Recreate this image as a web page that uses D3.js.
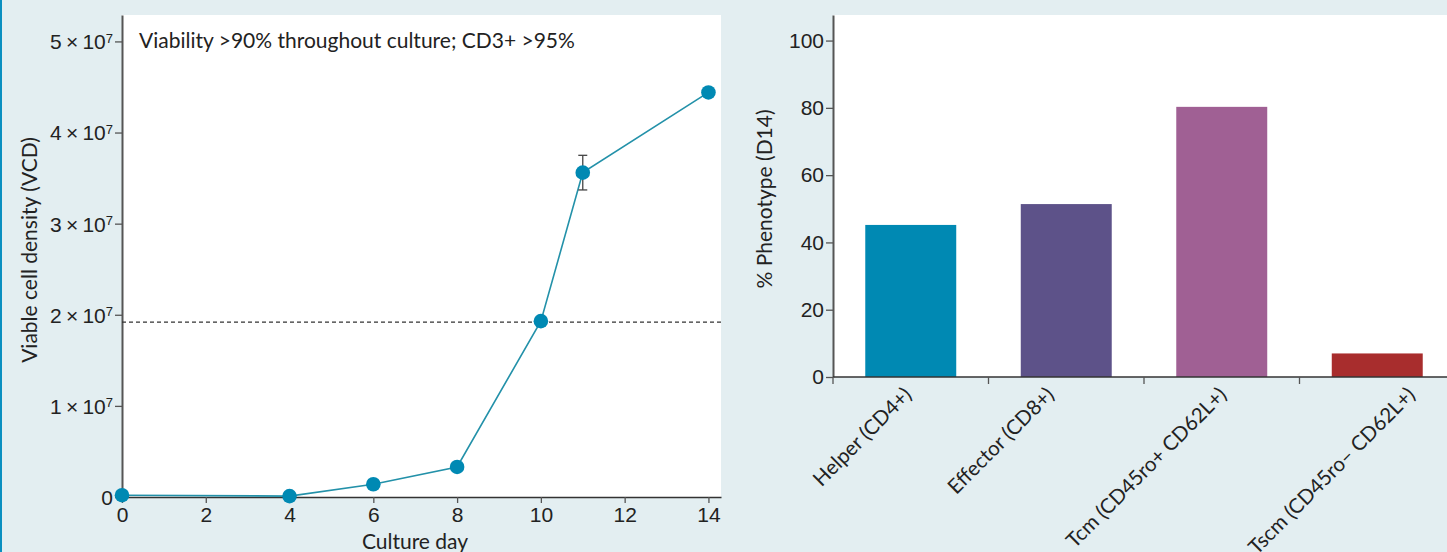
<!DOCTYPE html>
<html>
<head>
<meta charset="utf-8">
<script src="https://cdn.jsdelivr.net/npm/d3@7"></script>
<style>
  html, body { margin: 0; padding: 0; background: #e3eef1; }
  svg { display: block; font-family: Lato, "Open Sans", sans-serif; }
</style>
</head>
<body>
<svg id="chart" width="1447" height="552"></svg>
<script>
// Growth curve: viable cell density by culture day
const cultureDays = [0, 4, 6, 8, 10, 11, 14];
const vcdValues = [0.02e7, 0.01e7, 0.14e7, 0.33e7, 1.93e7, 3.56e7, 4.44e7];
const vcdErrors = [0, 0, 0, 0, 0, 0.19e7, 0];
const vcdTarget = 1.92e7;
const dayTicks = [0, 2, 4, 6, 8, 10, 12, 14];
const vcdTicks = [0, 1e7, 2e7, 3e7, 4e7, 5e7];
const annotation = "Viability >90% throughout culture; CD3+ >95%";

// Phenotype composition at day 14
const phenotypes = ["Helper (CD4+)", "Effector (CD8+)", "Tcm (CD45ro+ CD62L+)", "Tscm (CD45ro\u2013 CD62L+)"];
const phenotypePct = [45.2, 51.4, 80.3, 7.0];
const phenotypeColors = ["#0089b3", "#5d5289", "#a06094", "#a82d2d"];
const pctTicks = [0, 20, 40, 60, 80, 100];

// Layout: horizontal nudge of each rotated category label (px)
const labelNudge = [-3, -16, 1, 34];

const svg = d3.select("#chart");
const axisColor = "#555";
const textColor = "#222";
const fs = "21px";

// Page frame: accent stripe on the left edge
svg.append("rect").attr("x", 0).attr("y", 0).attr("width", 2).attr("height", 552).attr("fill", "#0a8fc0");

/* ---------- Left panel: VCD line chart ---------- */
const L = { left: 122, right: 721, top: 15, bottom: 497 };
const x1 = d3.scaleLinear().domain([0, 14.3]).range([L.left, L.right]);
const y1 = d3.scaleLinear().domain([0, 5.29e7]).range([L.bottom, L.top]);

svg.append("rect").attr("x", L.left).attr("y", L.top)
  .attr("width", L.right - L.left).attr("height", L.bottom - L.top).attr("fill", "#fff");

// y axis with scientific labels
const yAx1 = svg.append("g").attr("transform", `translate(${L.left},0)`)
  .call(d3.axisLeft(y1).tickValues(vcdTicks).tickSize(7).tickSizeOuter(0).tickFormat(""));
yAx1.select(".domain").attr("stroke", axisColor).attr("stroke-width", 2);
yAx1.selectAll(".tick line").attr("stroke", axisColor).attr("stroke-width", 1.3);
yAx1.selectAll(".tick").each(function(d) {
  const t = d3.select(this).append("text")
    .attr("x", -9).attr("dy", "0.35em").attr("text-anchor", "end")
    .attr("fill", textColor).style("font-size", fs);
  if (d === 0) { t.text("0"); return; }
  t.append("tspan").text(`${d / 1e7}\u2009\u00d7\u200910`);
  t.append("tspan").attr("dy", "-0.5em").style("font-size", "13px").text("7");
});

// x axis
const xAx1 = svg.append("g").attr("transform", `translate(0,${L.bottom})`)
  .call(d3.axisBottom(x1).tickValues(dayTicks).tickSize(6).tickSizeOuter(0));
xAx1.select(".domain").attr("stroke", "#333").attr("stroke-width", 1.5);
xAx1.selectAll(".tick line").attr("stroke", axisColor).attr("stroke-width", 1.3);
xAx1.selectAll(".tick text").attr("fill", textColor).style("font-size", fs).attr("dy", "0.76em");

// axis titles
svg.append("text").attr("x", 415).attr("y", 549)
  .attr("text-anchor", "middle").attr("fill", textColor).style("font-size", fs).text("Culture day");
svg.append("text").attr("transform", `translate(37,250) rotate(-90)`)
  .attr("text-anchor", "middle").attr("fill", textColor).style("font-size", fs)
  .text("Viable cell density (VCD)");

// annotation
svg.append("text").attr("x", 139).attr("y", 48).attr("fill", textColor)
  .style("font-size", fs).text(annotation);

// target reference line
svg.append("line").attr("x1", L.left).attr("x2", L.right)
  .attr("y1", y1(vcdTarget)).attr("y2", y1(vcdTarget))
  .attr("stroke", "#333").attr("stroke-width", 1.2).attr("stroke-dasharray", "4,3");

const pts = cultureDays.map((d, i) => ({ day: d, v: vcdValues[i], e: vcdErrors[i] }));

svg.append("path").datum(pts)
  .attr("fill", "none").attr("stroke", "#2391a9").attr("stroke-width", 1.6)
  .attr("d", d3.line().x(d => x1(d.day)).y(d => y1(d.v)));

// error bars
const eb = svg.append("g").selectAll("g").data(pts.filter(d => d.e > 0)).join("g")
  .attr("stroke", "#444").attr("stroke-width", 1.3);
eb.append("line").attr("x1", d => x1(d.day)).attr("x2", d => x1(d.day))
  .attr("y1", d => y1(d.v - d.e)).attr("y2", d => y1(d.v + d.e));
eb.append("line").attr("x1", d => x1(d.day) - 4.5).attr("x2", d => x1(d.day) + 4.5)
  .attr("y1", d => y1(d.v + d.e)).attr("y2", d => y1(d.v + d.e));
eb.append("line").attr("x1", d => x1(d.day) - 4.5).attr("x2", d => x1(d.day) + 4.5)
  .attr("y1", d => y1(d.v - d.e)).attr("y2", d => y1(d.v - d.e));

svg.append("g").selectAll("circle").data(pts).join("circle")
  .attr("cx", d => x1(d.day)).attr("cy", d => y1(d.v)).attr("r", 7.3)
  .attr("fill", "#0089b3");

/* ---------- Right panel: phenotype bar chart ---------- */
const R = { left: 833, right: 1447, top: 15, bottom: 377 };
const x2 = d3.scaleBand().domain(phenotypes).range([R.left, 1455])
  .paddingInner(0.415).paddingOuter(0.2075);
const y2 = d3.scaleLinear().domain([0, 107.6]).range([R.bottom, R.top]);

svg.append("rect").attr("x", R.left).attr("y", R.top)
  .attr("width", R.right - R.left).attr("height", R.bottom - R.top).attr("fill", "#fff");

svg.append("g").selectAll("rect").data(phenotypes).join("rect")
  .attr("x", d => x2(d)).attr("width", x2.bandwidth())
  .attr("y", (d, i) => y2(phenotypePct[i]))
  .attr("height", (d, i) => y2(0) - y2(phenotypePct[i]))
  .attr("fill", (d, i) => phenotypeColors[i]);

const yAx2 = svg.append("g").attr("transform", `translate(${R.left},0)`)
  .call(d3.axisLeft(y2).tickValues(pctTicks).tickSize(7).tickSizeOuter(0));
yAx2.select(".domain").attr("stroke", axisColor).attr("stroke-width", 2);
yAx2.selectAll(".tick line").attr("stroke", axisColor).attr("stroke-width", 1.3);
yAx2.selectAll(".tick text").attr("fill", textColor).style("font-size", fs).attr("x", -9);

// x axis: ticks mark the boundaries between categories
const boundaries = phenotypes.map(d => x2(d) - x2.step() * x2.paddingInner() / 2);
boundaries[0] = R.left;
const xAx2 = svg.append("g");
xAx2.append("line").attr("x1", R.left).attr("x2", R.right)
  .attr("y1", R.bottom).attr("y2", R.bottom).attr("stroke", "#333").attr("stroke-width", 1.5);
xAx2.selectAll("line.tk").data(boundaries).join("line").attr("class", "tk")
  .attr("x1", d => d).attr("x2", d => d).attr("y1", R.bottom).attr("y2", R.bottom + 7)
  .attr("stroke", axisColor).attr("stroke-width", 1.3);
xAx2.selectAll("text").data(phenotypes).join("text")
  .attr("transform", (d, i) => `translate(${x2(d) + x2.bandwidth() / 2 + labelNudge[i]},${R.bottom + 14}) rotate(-45)`)
  .attr("text-anchor", "end").attr("dy", "0.35em")
  .attr("fill", textColor).style("font-size", "20.5px").text(d => d);

svg.append("text").attr("transform", `translate(772,199) rotate(-90)`)
  .attr("text-anchor", "middle").attr("fill", textColor).style("font-size", fs)
  .text("% Phenotype (D14)");
</script>
</body>
</html>
